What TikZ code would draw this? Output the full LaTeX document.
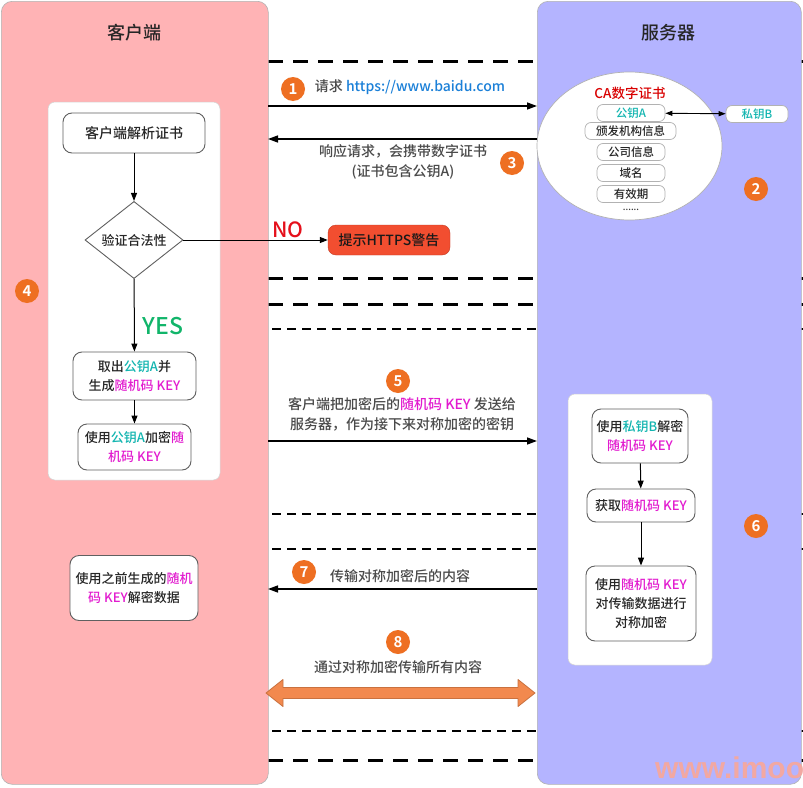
\documentclass[tikz,border=0pt]{standalone}
\usepackage{fontspec}
\setmainfont{Noto Sans CJK SC}[UprightFont=* Medium, BoldFont=* Bold]
\newfontfamily\wmfont{Liberation Sans}
\usetikzlibrary{shapes.geometric,arrows.meta}
\definecolor{pinkp}{HTML}{FFB3B5}
\definecolor{lavp}{HTML}{B4B4FF}
\definecolor{numor}{HTML}{EE6F22}
\definecolor{warnred}{HTML}{F24E30}
\definecolor{keyteal}{HTML}{12B5B0}
\definecolor{keymag}{HTML}{E21BCF}
\definecolor{linkblue}{HTML}{1B80D8}
\definecolor{yesgreen}{HTML}{11B56A}
\definecolor{nored}{HTML}{E5101B}
\definecolor{lbl}{HTML}{4A4A4A}
\definecolor{blockor}{HTML}{F2894E}
\definecolor{blockedge}{HTML}{C9713F}
\definecolor{wmcol}{HTML}{F2A8A2}
\newcommand{\tl}[1]{\textcolor{keyteal}{#1}}
\newcommand{\mg}[1]{\textcolor{keymag}{#1}}
\tikzset{
  panel/.style={draw=gray!60, rounded corners=11pt, line width=0.6pt, anchor=north west, inner sep=0pt},
  innerbox/.style={draw=gray!35, fill=white, rounded corners=7pt, line width=0.5pt},
  flowbox/.style={draw=gray!75!black, fill=white, rounded corners=9pt, line width=0.9pt, align=center,
    inner sep=0pt, font=\fontsize{13}{19}\selectfont, text=black!85},
  certbox/.style={draw=gray!60, fill=white, rounded corners=6pt, line width=0.7pt, inner sep=0pt,
    minimum height=17pt, font=\fontsize{11.5}{13}\selectfont, text=black!85},
  num/.style={circle, fill=numor, text=white, inner sep=0pt, minimum size=24pt, font=\bfseries\fontsize{15}{15}\selectfont},
  lbltext/.style={text=lbl, align=center, font=\fontsize{14}{19.5}\selectfont},
  thickdash/.style={line width=3pt, dash pattern=on 15pt off 10pt},
  thindash/.style={line width=2pt, dash pattern=on 9pt off 6pt},
  msg/.style={line width=1.4pt, -{Triangle[length=10pt,width=7pt]}},
  flow/.style={line width=1pt, -{Triangle[length=8pt,width=6pt]}},
  title/.style={font=\fontsize{18}{18}\selectfont, text=black!85}
}
\begin{document}
\begin{tikzpicture}[x=1pt,y=-1pt]
\useasboundingbox (0,0) rectangle (803,787);
\fill[white] (0,0) rectangle (803,787);
% dashed separators
\coordinate (d1a) at (268,61);  \coordinate (d1b) at (803,61);
\coordinate (d2a) at (268,278); \coordinate (d2b) at (803,278);
\coordinate (d3a) at (268,304); \coordinate (d3b) at (803,304);
\coordinate (d4a) at (272,329); \coordinate (d4b) at (803,329);
\coordinate (d5a) at (272,514); \coordinate (d5b) at (803,514);
\coordinate (d6a) at (272,549); \coordinate (d6b) at (803,549);
\coordinate (d7a) at (272,731); \coordinate (d7b) at (803,731);
\coordinate (d8a) at (268,760); \coordinate (d8b) at (803,760);
\draw[thickdash] (d1a) -- (d1b);
\draw[thickdash] (d2a) -- (d2b);
\draw[thickdash] (d3a) -- (d3b);
\draw[thindash] (d4a) -- (d4b);
\draw[thindash] (d5a) -- (d5b);
\draw[thindash] (d6a) -- (d6b);
\draw[thindash] (d7a) -- (d7b);
\draw[thickdash] (d8a) -- (d8b);
% panels
\node[panel, fill=pinkp, minimum width=267pt, minimum height=783pt] (client) at (1,1) {};
\node[panel, fill=lavp, minimum width=264pt, minimum height=783pt] (server) at (537,1) {};
\node[title] (ctitle) at (134,33) {客户端};
\node[title] (stitle) at (668,33) {服务器};
% client inner area
\draw[innerbox] (48,102) rectangle (220,480);
\node[flowbox, minimum width=142pt, minimum height=40pt, font=\fontsize{14}{19}\selectfont] (parse) at (134,133) {客户端解析证书};
\node[diamond, draw=gray!75!black, fill=white, line width=0.9pt, inner sep=0pt, minimum width=98pt, minimum height=70pt,
  font=\fontsize{13}{15}\selectfont, text=black!85] (valid) at (134,240) {验证合法性};
\node[flowbox, minimum width=123pt, minimum height=48pt] (getkey) at (134.5,376) {取出\tl{公钥A}并\\生成\mg{随机码 KEY}};
\node[flowbox, minimum width=113pt, minimum height=46pt] (enc) at (134.5,447) {使用\tl{公钥A}加密\mg{随}\\\mg{机码 KEY}};
\node[text=yesgreen, font=\fontsize{23}{23}\selectfont] (yes) at (163,326) {YES};
\draw[flow] (parse) -- (valid);
\draw[flow] (valid) -- (getkey);
\draw[flow] (getkey) -- (enc);
\node[draw=warnred!80!black, fill=warnred, rounded corners=8pt, minimum width=122pt, minimum height=30pt, inner sep=0pt,
  font=\fontsize{14}{15}\selectfont, text=black!90] (warn) at (389,240) {提示HTTPS警告};
\draw[flow] (valid) -- (warn);
\node[text=nored, font=\fontsize{21}{21}\selectfont] (no) at (288,230) {NO};
\node[num] (n4) at (27,291) {4};
\node[flowbox, minimum width=128pt, minimum height=65pt] (decdata) at (134,588) {使用之前生成的\mg{随机}\\\mg{码 KEY}解密数据};
% server certificate
\node[ellipse, draw=gray!60, fill=white, line width=0.7pt, minimum width=185pt, minimum height=148pt] (cert) at (629.5,146) {};
\node[text=red!85!black, font=\fontsize{13.5}{14}\selectfont] (catitle) at (630,93) {CA数字证书};
\node[certbox, minimum width=68pt, text=keyteal] (pubA) at (631,113) {公钥A};
\node[certbox, minimum width=91pt] (issuer) at (630.5,131) {颁发机构信息};
\node[certbox, minimum width=68pt] (comp) at (631,152) {公司信息};
\node[certbox, minimum width=68pt] (domain) at (631,173) {域名};
\node[certbox, minimum width=68pt] (valid2) at (631,194) {有效期};
\node[font=\fontsize{9}{10}\selectfont, text=black!80] (dots) at (631,210) {......};
\node[certbox, minimum width=62pt, text=keyteal] (privB) at (757,114) {私钥B};
\draw[line width=0.9pt, {Triangle[length=7pt,width=5pt]}-{Triangle[length=7pt,width=5pt]}] (pubA) -- (privB);
\node[num] (n2) at (756,189) {2};
% server inner area
\draw[innerbox] (568,394) rectangle (712,665);
\node[flowbox, minimum width=96pt, minimum height=54pt] (decB) at (640,436) {使用\tl{私钥B}解密\\\mg{随机码 KEY}};
\node[flowbox, minimum width=108pt, minimum height=33pt] (getB) at (641,505.5) {获取\mg{随机码 KEY}};
\node[flowbox, minimum width=110pt, minimum height=75pt] (useB) at (641,603.5) {使用\mg{随机码 KEY}\\对传输数据进行\\对称加密};
\draw[flow] (decB) -- (getB);
\draw[flow] (getB) -- (useB);
\node[num] (n6) at (756,526) {6};
% messages
\coordinate (m1a) at (268,106); \coordinate (m1b) at (537,106);
\draw[msg] (m1a) -- (m1b);
\node[num] (n1) at (293,89) {1};
\node[lbltext] (t1) at (410,87) {请求 \textcolor{linkblue}{https://www.baidu.com}};
\coordinate (m3a) at (537,139); \coordinate (m3b) at (268,139);
\draw[msg] (m3a) -- (m3b);
\node[lbltext] (t3) at (403,162) {响应请求，会携带数字证书\\(证书包含公钥A)};
\node[num] (n3) at (512,163) {3};
\coordinate (m5a) at (268,441); \coordinate (m5b) at (537,441);
\draw[msg] (m5a) -- (m5b);
\node[num] (n5) at (398,381) {5};
\node[lbltext] (t5) at (402,414.5) {客户端把加密后的\mg{随机码 KEY} 发送给\\服务器，作为接下来对称加密的密钥};
\coordinate (m7a) at (537,589); \coordinate (m7b) at (268,589);
\draw[msg] (m7a) -- (m7b);
\node[num] (n7) at (304,572) {7};
\node[lbltext] (t7) at (400,576) {传输对称加密后的内容};
\node[num] (n8) at (398,642) {8};
\node[lbltext] (t8) at (398,667) {通过对称加密传输所有内容};
% block double arrow
\draw[fill=blockor, draw=blockedge, line width=0.8pt, line join=round]
  (266,693) -- (283,679.5) -- (283,687.5) -- (518,687.5) -- (518,679.5) -- (535,693)
  -- (518,706.5) -- (518,698.5) -- (283,698.5) -- (283,706.5) -- cycle;
% watermark
\node[anchor=base west, inner sep=0pt, text=wmcol, font=\wmfont\bfseries\fontsize{30}{30}\selectfont] (wm) at (655,778) {www.imooc};
\end{tikzpicture}
\end{document}
